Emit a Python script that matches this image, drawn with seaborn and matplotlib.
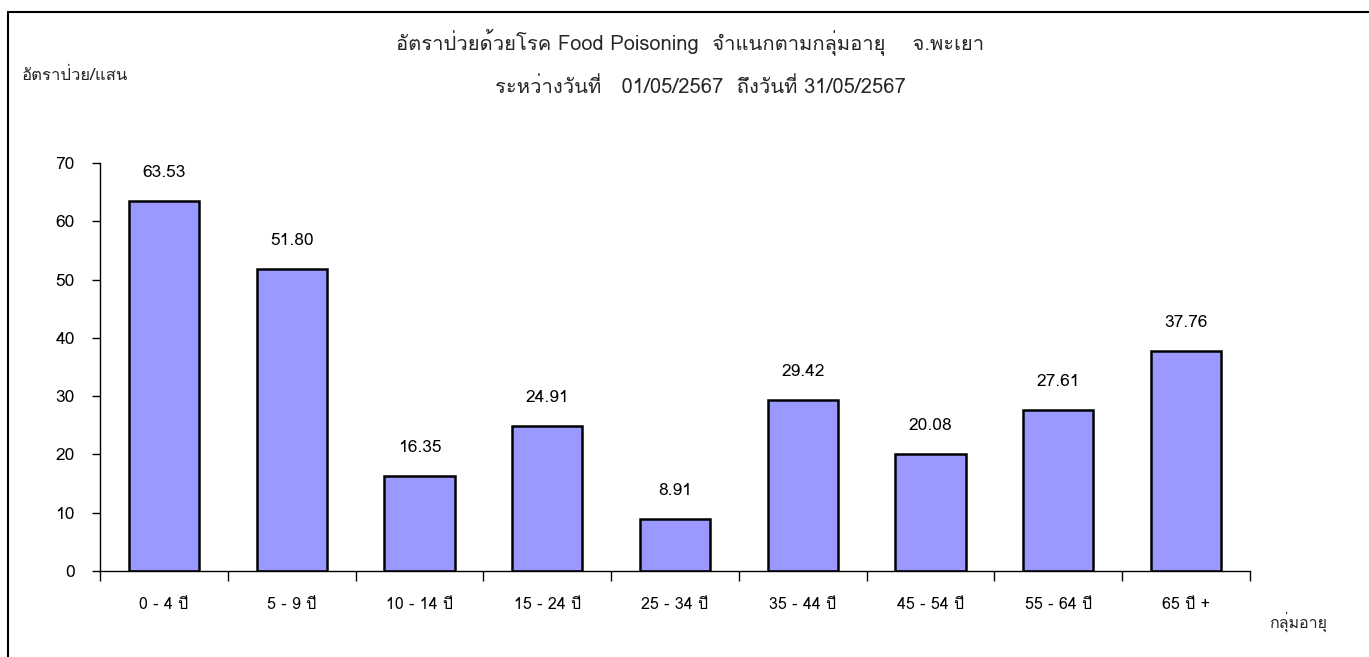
import numpy as np
import matplotlib
matplotlib.use("Agg")
import matplotlib.pyplot as plt
from matplotlib import font_manager
from matplotlib.ft2font import FT2Font
from matplotlib.lines import Line2D
import seaborn as sns

title_1 = "อัตราป่วยด้วยโรค Food Poisoning  จำแนกตามกลุ่มอายุ    จ.พะเยา"
title_2 = "ระหว่างวันที่   01/05/2567  ถึงวันที่ 31/05/2567"
y_title = "อัตราป่วย/แสน"
x_title = "กลุ่มอายุ"
age_groups = ["0 - 4 ปี", "5 - 9 ปี", "10 - 14 ปี", "15 - 24 ปี", "25 - 34 ปี",
              "35 - 44 ปี", "45 - 54 ปี", "55 - 64 ปี", "65 ปี +"]
rates = [63.53, 51.80, 16.35, 24.91, 8.91, 29.42, 20.08, 27.61, 37.76]


# find an installed font that has Thai glyphs
def thai_font():
    names = []
    for f in font_manager.fontManager.ttflist:
        try:
            cmap = FT2Font(f.fname).get_charmap()
        except Exception:
            continue
        if 0x0E2D in cmap and 0x0E1B in cmap:
            names.append(f.name)
    return names[0] if names else None


sns.set_theme(style="white")
tf = thai_font()
plt.rcParams["font.family"] = ([tf] if tf else []) + ["DejaVu Sans"]

fig = plt.figure(figsize=(13.69, 6.57), dpi=100)
ax = fig.add_axes([100 / 1369, 1 - 571 / 657, 1150 / 1369, (571 - 163) / 657])

sns.barplot(x=age_groups, y=rates, color="#9999FF", saturation=1, width=0.55,
            edgecolor="black", linewidth=1.8, ax=ax)

for i, v in enumerate(rates):
    ax.annotate(f"{v:.2f}", (i, v), xytext=(0, 20), textcoords="offset points",
                ha="center", va="center", fontsize=12.5, color="black")

ax.set_ylim(0, 70)
ax.set_xlim(-0.5, len(age_groups) - 0.5)
ax.set_yticks(np.arange(0, 71, 10))
ax.tick_params(axis="y", length=6, width=1, direction="out", left=True, pad=12,
               labelsize=12.5, color="black", labelcolor="black")
ax.set_xticks(range(len(age_groups)))
ax.set_xticklabels(age_groups)
ax.tick_params(axis="x", which="major", length=0, pad=19, labelsize=11.5,
               labelcolor="black")
ax.set_xticks(np.arange(-0.5, len(age_groups)), minor=True)
ax.tick_params(axis="x", which="minor", length=7, width=1, direction="out",
               bottom=True, color="black")
for s in ["top", "right"]:
    ax.spines[s].set_visible(False)
for s in ["left", "bottom"]:
    ax.spines[s].set_color("black")
    ax.spines[s].set_linewidth(1)
ax.set_xlabel("")
ax.set_ylabel("")

fig.text(690 / 1369, 1 - 42 / 657, title_1, ha="center", va="center", fontsize=14.5)
fig.text(700 / 1369, 1 - 87 / 657, title_2, ha="center", va="center", fontsize=14.5)
fig.text(22 / 1369, 1 - 76 / 657, y_title, ha="left", va="center", fontsize=12)
fig.text(1298 / 1369, 1 - 622 / 657, x_title, ha="center", va="center", fontsize=11.5)

# outer frame of the chart area
fig.add_artist(Line2D([8 / 1369, 1], [1 - 12 / 657, 1 - 12 / 657], color="black",
                      linewidth=1.5, transform=fig.transFigure))
fig.add_artist(Line2D([8 / 1369, 8 / 1369], [0, 1 - 12 / 657], color="black",
                      linewidth=1.5, transform=fig.transFigure))

fig.savefig("out.png", dpi=100)
